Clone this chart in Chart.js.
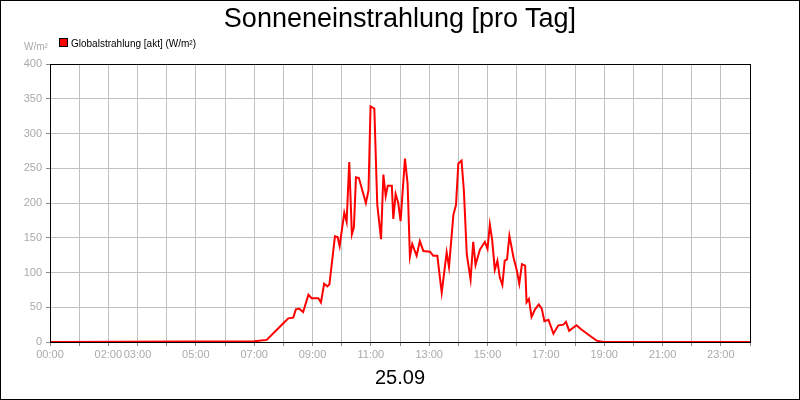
<!DOCTYPE html>
<html><head><meta charset="utf-8">
<script src="https://cdn.jsdelivr.net/npm/chart.js@4"></script>
<style>
body{margin:0;background:#fff;font-family:"Liberation Sans",Arial,sans-serif}
#w{position:relative;width:798px;height:398px;border:1px solid #000}
canvas{position:absolute;left:-1px;top:-1px}
.t{position:absolute;white-space:nowrap}
</style></head><body>
<div id="w">
<canvas id="c" width="800" height="400"></canvas>
<div class="t" style="left:0;width:798px;text-align:center;top:2px;font-size:27px">Sonneneinstrahlung [pro Tag]</div>
<div class="t" style="left:23px;top:40px;font-size:10px;color:#aaa">W/m²</div>
<div class="t" style="left:58px;top:37px;font-size:10px"><span style="display:inline-block;width:7px;height:7px;background:#f00;border:1px solid #000;margin-right:3px"></span>Globalstrahlung [akt] (W/m²)</div>
<div class="t" style="left:0;width:798px;text-align:center;top:365px;font-size:20px">25.09</div>
</div>
<script>
const hours=[0,7.0,7.43,8.0,8.17,8.34,8.43,8.54,8.68,8.86,8.97,9.2,9.29,9.40,9.51,9.58,9.77,9.86,9.93,10.09,10.17,10.26,10.35,10.42,10.49,10.59,10.83,10.92,10.99,11.12,11.22,11.35,11.43,11.51,11.58,11.72,11.77,11.85,11.94,12.02,12.17,12.26,12.34,12.42,12.57,12.68,12.80,13.03,13.14,13.28,13.43,13.60,13.68,13.83,13.92,14.0,14.11,14.19,14.29,14.42,14.51,14.59,14.74,14.91,15.0,15.08,15.16,15.25,15.34,15.42,15.51,15.59,15.67,15.75,15.89,16.0,16.09,16.18,16.29,16.34,16.42,16.51,16.63,16.76,16.86,16.95,17.09,17.26,17.43,17.60,17.69,17.80,18.05,18.22,18.51,18.74,18.97,24];
const values=[0,1,3,27,34,35,47,48,43,68,63,63,57,84,80,83,152,151,138,186,173,259,155,165,237,236,200,218,339,336,198,148,241,210,225,225,177,213,200,174,264,228,123,141,124,145,131,130,124,124,71,129,108,183,197,257,261,218,126,90,144,111,133,144,134,169,147,104,117,93,82,117,119,153,122,104,84,112,110,57,62,36,47,54,48,30,32,12,24,25,29,16,24,18,9,2,0,0];
const tickLabels={0:"00:00",2:"02:00",3:"03:00",5:"05:00",7:"07:00",9:"09:00",11:"11:00",13:"13:00",15:"15:00",17:"17:00",19:"19:00",21:"21:00",23:"23:00"};
const frame={id:'frame',afterDraw(ch){const a=ch.chartArea,x=ch.ctx;x.save();x.strokeStyle='#000';x.lineWidth=1;x.strokeRect(Math.round(a.left)+0.5,Math.round(a.top)+0.5,Math.round(a.width),Math.round(a.height));x.restore();}};
new Chart(document.getElementById('c'),{type:'line',
data:{datasets:[{data:hours.map((h,i)=>({x:h,y:values[i]})),borderColor:'#f00',borderWidth:2,pointRadius:0,tension:0}]},
options:{responsive:false,animation:false,layout:{padding:{top:64,right:50,left:0,bottom:0}},
plugins:{legend:{display:false},tooltip:{enabled:false}},
scales:{
x:{type:'linear',min:0,max:24,afterFit(s){s.height=58;},
 afterBuildTicks(s){s.ticks=[];for(let h=0;h<=24;h++)s.ticks.push({value:h});},
 ticks:{autoSkip:false,maxRotation:0,color:'#aaa',font:{size:11,family:'Liberation Sans'},padding:2,callback:v=>tickLabels[v]||''},
 grid:{color:'#c0c0c0',tickLength:4,tickColor:'#888'},border:{color:'#000'}},
y:{min:0,max:400,afterFit(s){s.width=50;},
 ticks:{stepSize:50,color:'#aaa',font:{size:11,family:'Liberation Sans'},padding:4},
 grid:{color:'#c0c0c0',tickLength:4,tickColor:'#888'},border:{color:'#000'}}}},
plugins:[frame]});
</script></body></html>
